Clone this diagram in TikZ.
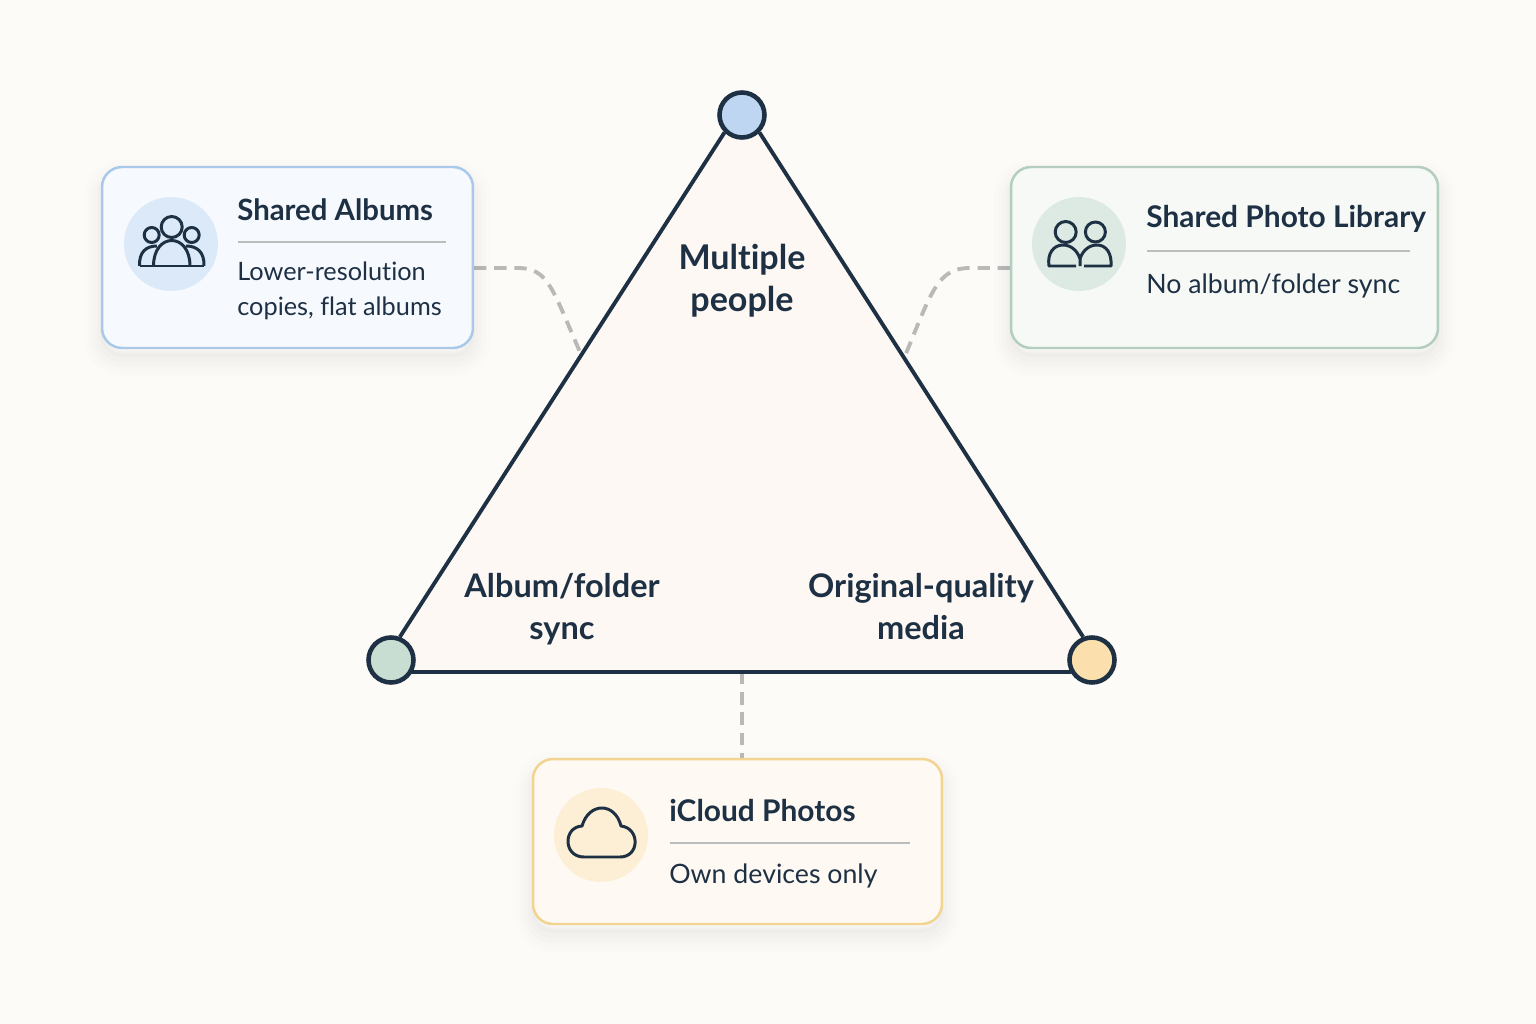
\documentclass[tikz,border=0pt]{standalone}
\usepackage{fontspec}
\setmainfont{Lato}[Ligatures=NoCommon]
\usetikzlibrary{shadows,calc}
\pgfdeclarelayer{under}
\pgfsetlayers{under,main}
\definecolor{paper}{HTML}{FDFBF7}
\definecolor{ink}{HTML}{1E3044}
\definecolor{trifill}{HTML}{FDF8F3}
\definecolor{dashgray}{HTML}{B9B9B7}
\definecolor{rulegray}{HTML}{BCBEBE}
\definecolor{bluelin}{HTML}{A9C8EA}
\definecolor{bluecard}{HTML}{F6F9FD}
\definecolor{bluedisc}{HTML}{DCE9F8}
\definecolor{bluedot}{HTML}{BFD6F2}
\definecolor{greenlin}{HTML}{B3CDBF}
\definecolor{greencard}{HTML}{F6F9F6}
\definecolor{greendisc}{HTML}{DDEAE3}
\definecolor{greendot}{HTML}{C9DED2}
\definecolor{yellowlin}{HTML}{F3D390}
\definecolor{yellowcard}{HTML}{FEFAF3}
\definecolor{yellowdisc}{HTML}{FDEFD5}
\definecolor{yellowdot}{HTML}{FBE0AD}
\tikzset{
  vertex/.style={circle,draw=ink,line width=2.6pt,minimum size=0.9cm,inner sep=0pt},
  side/.style={draw=ink,line width=2.2pt},
  link/.style={draw=dashgray,line width=2.2pt,dash pattern=on 7pt off 4.5pt},
  card/.style={rectangle,rounded corners=0.4cm,line width=1.4pt,inner sep=0pt,
    general shadow={draw=ink,line width=20pt,opacity=.006,shadow yshift=-6pt},
    general shadow={draw=ink,line width=15pt,opacity=.008,shadow yshift=-6pt},
    general shadow={draw=ink,line width=10pt,opacity=.010,shadow yshift=-6pt},
    general shadow={draw=ink,line width=6pt,opacity=.012,shadow yshift=-5pt},
    general shadow={draw=ink,line width=2pt,opacity=.014,shadow yshift=-4pt}},
  disc/.style={circle,minimum size=1.88cm,inner sep=0pt},
  icon/.style={draw=ink,line width=1.7pt,line join=round},
  sep/.style={draw=rulegray,line width=1.4pt},
  corner/.style={font=\fontsize{18.5}{23.9}\selectfont\bfseries,text=ink,align=center,inner sep=0pt},
  title/.style={font=\fontsize{17}{20}\selectfont\bfseries,text=ink,anchor=base west,inner sep=0pt},
  body/.style={font=\fontsize{15.2}{19.4}\selectfont,text=ink,anchor=base west,align=left,inner sep=0pt},
}
\begin{document}
\begin{tikzpicture}[x=0.02cm,y=-0.02cm]
    \begin{pgfonlayer}{under}
    \useasboundingbox[fill=paper] (0,0) rectangle (1536,1024);
    \end{pgfonlayer}
    %vertices
    \node[vertex,fill=bluedot] (top) at (742,115) {};
    \node[vertex,fill=greendot] (left) at (391,660) {};
    \node[vertex,fill=yellowdot] (right) at (1092,660) {};
    %cards
    \node[card,draw=bluelin,fill=bluecard,minimum width=7.42cm,minimum height=3.62cm] (albums) at (287.5,257.5) {};
    \node[card,draw=greenlin,fill=greencard,minimum width=8.54cm,minimum height=3.62cm] (library) at (1224.5,257.5) {};
    \node[card,draw=yellowlin,fill=yellowcard,minimum width=8.18cm,minimum height=3.3cm] (icloud) at (737.5,841.5) {};
    %triangle and dashed links
    \coordinate (albumsout) at (474,268);
    \coordinate (albumsin) at (580,352);
    \coordinate (libraryout) at (1010,268);
    \coordinate (libraryin) at (905,356);
    \coordinate (basemid) at (742,672);
    \begin{pgfonlayer}{under}
    \draw[link] (albumsout) -- (518,268) .. controls (548,268) and (552,288) .. (albumsin);
    \draw[link] (libraryout) -- (970,268) .. controls (938,268) and (932,290) .. (libraryin);
    \draw[link] (basemid) -- (basemid |- icloud.north);
    \fill[trifill] (top.center) -- (top.-135) -- (left.69) -- (left.center) -- (left.-30) -- (right.-150) -- (right.center) -- (right.111) -- (top.-45) -- cycle;
    \draw[side] (top.-135) -- (left.69);
    \draw[side] (top.-45) -- (right.111);
    \draw[side] (left.-30) -- (right.-150);
    \end{pgfonlayer}
    \node[corner,font=\fontsize{19.4}{23.9}\selectfont\bfseries] (people) at (742,281) {Multiple\\people};
    \node[corner] (sync) at (562,609) {Album/folder\\sync};
    \node[corner] (quality) at (921,607) {Original-quality\\media};
    %Shared Albums
    \node[disc,fill=bluedisc] (albumsdisc) at (171,244) {};
    \draw[icon] (171.7,227) circle (10.5) (151.7,235) circle (7.5) (191.7,235) circle (7.5);
    \draw[icon] (139.5,266) -- (204,266);
    \draw[icon] (153.5,266) .. controls (153.5,232) and (190,232) .. (190,266);
    \draw[icon] (139.5,266) .. controls (139,252) and (146,246) .. (157,246);
    \draw[icon] (204,266) .. controls (204.5,252) and (197,246) .. (186,246);
    \node[title,font=\fontsize{16.7}{20}\selectfont\bfseries] (albumstitle) at (237,220) {Shared Albums};
    \draw[sep] (238,242) -- (446,242);
    \node[body,font=\fontsize{14.4}{19.4}\selectfont] (albumsbody) at (237,315) {Lower-resolution\\copies, flat albums};
    %Shared Photo Library
    \node[disc,fill=greendisc] (librarydisc) at (1079,244) {};
    \draw[icon] (1065.7,232) circle (10.5) (1095.4,232) circle (10);
    \draw[icon] (1076,266) -- (1049,266) .. controls (1047,253) and (1054,245) .. (1063,245) .. controls (1072,245) and (1078,252) .. (1080,259) -- (1080,266);
    \draw[icon] (1084,266) -- (1111,266) .. controls (1112,253) and (1106,245) .. (1097,245) .. controls (1088,245) and (1082,252) .. (1080,259);
    \node[title] (librarytitle) at (1146,228) {Shared Photo Library};
    \draw[sep] (1147,251) -- (1410,251);
    \node[body] (librarybody) at (1146,294) {No album/folder sync};
    %iCloud Photos
    \node[disc,fill=yellowdisc] (iclouddisc) at (601,835) {};
    \draw[icon] (584,857) .. controls (563,857) and (563,827) .. (582,826)
       .. controls (589,802) and (615,802) .. (621,826)
       .. controls (640,828) and (640,857) .. (620,857) -- cycle;
    \node[title] (icloudtitle) at (669,821) {iCloud Photos};
    \draw[sep] (670,843) -- (910,843);
    \node[body] (icloudbody) at (669,883) {Own devices only};
\end{tikzpicture}
\end{document}
